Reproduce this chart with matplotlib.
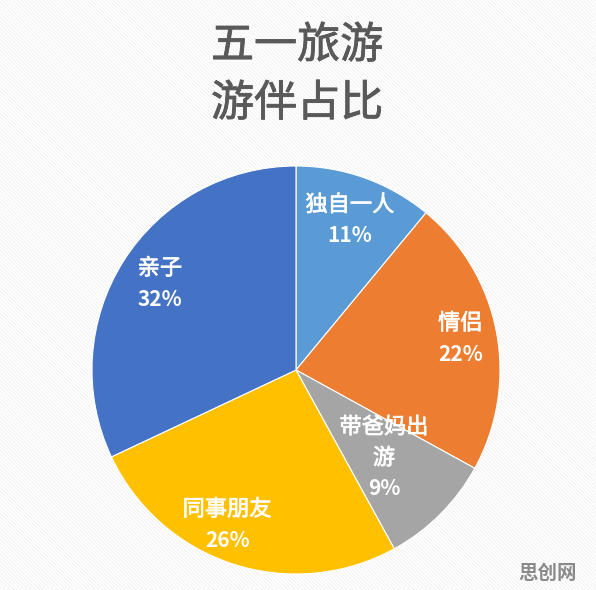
import numpy as np
import matplotlib
matplotlib.use("Agg")
import matplotlib.pyplot as plt
import matplotlib.patheffects as pe
from matplotlib.patches import Rectangle

plt.rcParams['font.family'] = ['Noto Sans CJK SC', 'DejaVu Sans']
plt.rcParams['hatch.color'] = 'white'
plt.rcParams['hatch.linewidth'] = 1.4

# data
labels = ['独自一人', '情侣', '带爸妈出\n游', '同事朋友', '亲子']
shares = [11, 22, 9, 26, 32]
colors = ['#5B9BD5', '#ED7D31', '#A5A5A5', '#FFC000', '#4472C4']
label_dist = [0.78, 0.82, 0.61, 0.83, 0.79]
label_shift = [0, 0, 0, -6, 0]  # degrees

W, H = 596, 590
fig = plt.figure(figsize=(W / 100, H / 100), dpi=100)
fig.patch.set_facecolor('#ececec')

# striped background
bg = Rectangle((0, 0), 1, 1, transform=fig.transFigure, facecolor='#ececec',
               edgecolor='white', hatch='\\' * 9, linewidth=0, zorder=-10)
fig.patches.append(bg)

# title, a bit heavier than regular
thick = [pe.withStroke(linewidth=0.6, foreground='#595959')]
fig.text(297 / W, 1 - 46 / H, '五一旅游', ha='center', va='center',
         fontsize=31, color='#595959', path_effects=thick)
fig.text(297 / W, 1 - 104 / H, '游伴占比', ha='center', va='center',
         fontsize=31, color='#595959', path_effects=thick)

# pie axes: centre (296, 370), radius 204 px
cx, cy, r = 296, 370, 204
ax = fig.add_axes([(cx - r) / W, (H - cy - r) / H, 2 * r / W, 2 * r / H])
wedges, _ = ax.pie(shares, colors=colors, startangle=90, counterclock=False,
                   radius=1, wedgeprops=dict(edgecolor='white', linewidth=0.8))
ax.set_xlim(-1, 1)
ax.set_ylim(-1, 1)
ax.set_aspect('equal')
ax.axis('off')

step = 31 * 72 / 100  # line step in points
for w, lab, s, d, sh in zip(wedges, labels, shares, label_dist, label_shift):
    ang = np.deg2rad((w.theta1 + w.theta2) / 2 + sh)
    x, y = d * np.cos(ang), d * np.sin(ang)
    lines = lab.split('\n') + [f'{s}%']
    n = len(lines)
    for i, line in enumerate(lines):
        off = ((n - 1) / 2 - i) * step
        last = i == n - 1
        t = ax.annotate(line, (x, y), xytext=(0, off), textcoords='offset points',
                        ha='center', va='center', color='white',
                        fontsize=15 if last else 16,
                        fontweight='bold' if last else 'normal')
        if not last:
            t.set_path_effects([pe.withStroke(linewidth=0.5, foreground='white')])

# watermark
fig.text(548 / W, 1 - 573 / H, '思创网', ha='center', va='center',
         fontsize=14, fontweight='bold', color='#8a8a8a')

fig.savefig('out.png', dpi=100)
